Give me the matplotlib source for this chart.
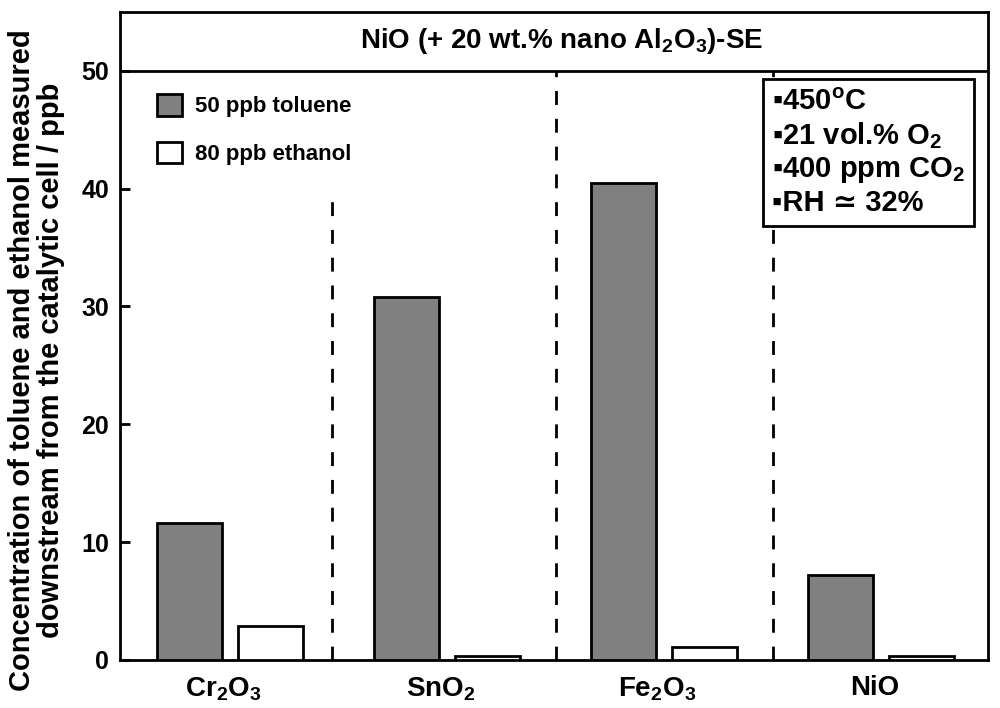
import matplotlib.pyplot as plt
import numpy as np

plt.rcParams['font.family'] = ['Liberation Sans', 'DejaVu Sans']
plt.rcParams['font.weight'] = 'bold'
plt.rcParams['mathtext.fontset'] = 'custom'
plt.rcParams['mathtext.rm'] = 'Liberation Sans:bold'
plt.rcParams['mathtext.bf'] = 'Liberation Sans:bold'
plt.rcParams['mathtext.it'] = 'Liberation Sans:bold'

materiales = [r'Cr$_2$O$_3$', r'SnO$_2$', r'Fe$_2$O$_3$', 'NiO']
tolueno = [11.6, 30.8, 40.5, 7.2]
etanol = [2.9, 0.3, 1.1, 0.3]
separadores = [0.47, 1.5, 2.5]
sep_top = [39, 50, 50]

x = np.arange(len(materiales))
ancho = 0.30
desp = 0.187

fig = plt.figure(figsize=(10, 7.08), dpi=100)
ax = fig.add_axes([0.12, 0.068, 0.868, 0.915])

ax.bar(x - desp, tolueno, ancho, color='#808080', edgecolor='black', linewidth=2,
       label='50 ppb toluene', zorder=3)
ax.bar(x + desp, etanol, ancho, color='white', edgecolor='black', linewidth=2,
       label='80 ppb ethanol', zorder=3)

for s, t in zip(separadores, sep_top):
    ax.plot([s, s], [0, t], color='black', linestyle=(0, (5, 5)), linewidth=2, zorder=1)

ax.axhline(50, color='black', linewidth=2)
ax.text(1.53, 52.5, r'NiO (+ 20 wt.% nano Al$_2$O$_3$)-SE', ha='center', va='center',
        fontsize=20, fontweight='bold')

ax.set_xlim(-0.507, 3.493)
ax.set_ylim(0, 55)
ax.set_yticks([0, 10, 20, 30, 40, 50])
ax.set_xticks(x - 0.03)
ax.set_xticklabels(materiales, fontsize=20, fontweight='bold')
ax.tick_params(axis='y', direction='in', length=7, width=2, labelsize=18, pad=8)
ax.tick_params(axis='x', length=0, pad=11)
for lab in ax.get_yticklabels():
    lab.set_fontweight('bold')
for sp in ax.spines.values():
    sp.set_linewidth(2)

ax.set_ylabel('Concentration of toluene and ethanol measured\ndownstream from the catalytic cell / ppb',
              fontsize=21, fontweight='bold', linespacing=1.05)
ax.yaxis.set_label_coords(-0.063, 0.463)

ax.legend(loc='upper left', bbox_to_anchor=(0.02, 0.904), frameon=False,
          handlelength=1.1, handleheight=1.1, handletextpad=0.6, labelspacing=1.1,
          prop={'weight': 'bold', 'size': 16})

cond = ('▪450$^\\mathrm{o}$C\n▪21 vol.% O$_2$\n▪400 ppm CO$_2$\n▪RH ≃ 32%')
ax.text(0.751, 0.883, cond, transform=ax.transAxes, ha='left', va='top', fontsize=21,
        fontweight='bold', linespacing=1.18, zorder=5,
        bbox=dict(boxstyle='square,pad=0.3', facecolor='white', edgecolor='black', linewidth=2))

fig.savefig('out.png', dpi=100)
